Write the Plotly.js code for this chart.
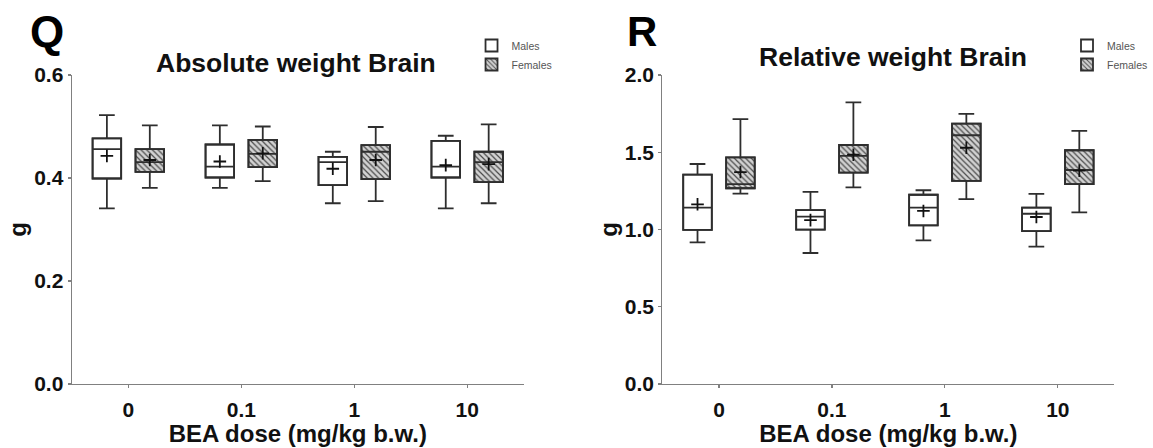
<!DOCTYPE html>
<html>
<head>
<meta charset="utf-8">
<script src="https://cdn.plot.ly/plotly-3.0.1.min.js"></script>
<style>
  html, body { margin: 0; padding: 0; background: #fff; }
  #chart { width: 1153px; height: 448px; }
</style>
</head>
<body>
<div id="chart"></div>
<script>
// ---------- data ----------
const doses = ['0', '0.1', '1', '10'];

// Panel Q: Absolute weight Brain (g)
const absMaleLow  = [0.341, 0.381, 0.351, 0.341];
const absMaleQ1   = [0.399, 0.401, 0.386, 0.401];
const absMaleMed  = [0.456, 0.422, 0.431, 0.422];
const absMaleQ3   = [0.477, 0.465, 0.441, 0.472];
const absMaleHigh = [0.522, 0.502, 0.451, 0.482];
const absMaleMean = [0.443, 0.432, 0.418, 0.425];

const absFemLow  = [0.381, 0.394, 0.355, 0.351];
const absFemQ1   = [0.412, 0.421, 0.398, 0.392];
const absFemMed  = [0.431, 0.447, 0.451, 0.431];
const absFemQ3   = [0.456, 0.474, 0.464, 0.451];
const absFemHigh = [0.502, 0.500, 0.499, 0.504];
const absFemMean = [0.435, 0.448, 0.435, 0.427];

// Panel R: Relative weight Brain (g)
const relMaleLow  = [0.917, 0.848, 0.930, 0.889];
const relMaleQ1   = [0.997, 0.999, 1.027, 0.990];
const relMaleMed  = [1.141, 1.083, 1.141, 1.102];
const relMaleQ3   = [1.355, 1.126, 1.225, 1.141];
const relMaleHigh = [1.424, 1.243, 1.254, 1.230];
const relMaleMean = [1.163, 1.061, 1.120, 1.081];

const relFemLow  = [1.232, 1.273, 1.197, 1.111];
const relFemQ1   = [1.267, 1.368, 1.315, 1.294];
const relFemMed  = [1.294, 1.476, 1.610, 1.385];
const relFemQ3   = [1.467, 1.547, 1.685, 1.513];
const relFemHigh = [1.715, 1.823, 1.748, 1.638];
const relFemMean = [1.372, 1.484, 1.529, 1.381];

// ---------- styling ----------
const W = 1153, H = 448;
const FONT = 'Arial, "Liberation Sans", Helvetica, sans-serif';
const AXCOL = '#808080';
const BOXCOL = '#2e2e2e';
const BOXW = 0.253;          // box width in category units
const SEX_OFFSET = { Males: -0.19, Females: 0.19 };  // side-by-side placement within a dose group

function pos(sex) { return doses.map((d, i) => i + SEX_OFFSET[sex]); }

function boxTrace(sex, xa, ya, lo, q1, med, q3, hi, legend) {
  return {
    type: 'box', name: sex, x: pos(sex),
    lowerfence: lo, q1: q1, median: med, q3: q3, upperfence: hi,
    xaxis: xa, yaxis: ya, width: BOXW, whiskerwidth: 0.55,
    fillcolor: 'rgba(0,0,0,0)', line: { color: BOXCOL, width: 1.8 },
    boxpoints: false, legend: legend, showlegend: false, hoverinfo: 'skip'
  };
}
function fillTrace(sex, xa, ya, q1, q3, legend, hatched) {
  const marker = { color: '#ffffff', line: { color: BOXCOL, width: 1.8 } };
  if (hatched) {
    marker.color = '#d2d2d2';
    marker.pattern = { shape: '\\', bgcolor: '#d2d2d2', fgcolor: '#4a4a4a', size: 4, solidity: 0.3 };
  }
  return {
    type: 'bar', name: sex, x: pos(sex), width: BOXW,
    base: q1, y: q3.map((v, i) => v - q1[i]),
    xaxis: xa, yaxis: ya, marker: marker,
    legend: legend, showlegend: true, hoverinfo: 'skip'
  };
}
function meanTrace(sex, xa, ya, mean) {
  return {
    type: 'scatter', mode: 'markers', name: sex + ' mean', x: pos(sex), y: mean,
    xaxis: xa, yaxis: ya, showlegend: false, hoverinfo: 'skip',
    marker: { symbol: 'cross-thin', size: 9, color: '#111', line: { color: '#111', width: 1.8 } }
  };
}

const traces = [
  // Panel Q
  fillTrace('Males', 'x', 'y', absMaleQ1, absMaleQ3, 'legend', false),
  fillTrace('Females', 'x', 'y', absFemQ1, absFemQ3, 'legend', true),
  boxTrace('Males', 'x', 'y', absMaleLow, absMaleQ1, absMaleMed, absMaleQ3, absMaleHigh, 'legend'),
  boxTrace('Females', 'x', 'y', absFemLow, absFemQ1, absFemMed, absFemQ3, absFemHigh, 'legend'),
  meanTrace('Males', 'x', 'y', absMaleMean),
  meanTrace('Females', 'x', 'y', absFemMean),
  // Panel R
  fillTrace('Males', 'x2', 'y2', relMaleQ1, relMaleQ3, 'legend2', false),
  fillTrace('Females', 'x2', 'y2', relFemQ1, relFemQ3, 'legend2', true),
  boxTrace('Males', 'x2', 'y2', relMaleLow, relMaleQ1, relMaleMed, relMaleQ3, relMaleHigh, 'legend2'),
  boxTrace('Females', 'x2', 'y2', relFemLow, relFemQ1, relFemMed, relFemQ3, relFemHigh, 'legend2'),
  meanTrace('Males', 'x2', 'y2', relMaleMean),
  meanTrace('Females', 'x2', 'y2', relFemMean)
];

const yDom = [1 - 384 / H, 1 - 75 / H];
const tickFont = { family: FONT, size: 21, color: '#111', weight: 'bold' };
const titleFont = { family: FONT, size: 24, color: '#111', weight: 'bold' };

function doseAxis(domPx, anchor) {
  return {
    domain: [domPx[0] / W, domPx[1] / W], anchor: anchor,
    type: 'linear', range: [-0.5, 3.5],
    tickmode: 'array', tickvals: doses.map((d, i) => i), ticktext: doses,
    showline: true, linecolor: AXCOL, linewidth: 1.3,
    ticks: 'outside', ticklen: 3, tickcolor: AXCOL, tickwidth: 1.2,
    showgrid: false, zeroline: false, tickfont: tickFont, ticklabelstandoff: 3,
    title: { text: 'BEA dose (mg/kg b.w.)', font: titleFont, standoff: 3 },
    automargin: false, fixedrange: true
  };
}
function valAxis(anchor, range, dtick) {
  return {
    domain: yDom, anchor: anchor, range: range, dtick: dtick, tick0: 0,
    tickformat: '.1f',
    showline: true, linecolor: AXCOL, linewidth: 1.3,
    ticks: 'outside', ticklen: 3, tickcolor: AXCOL, tickwidth: 1.2,
    showgrid: false, zeroline: false, tickfont: tickFont,
    title: { text: 'g', font: titleFont, standoff: 0 },
    automargin: false, fixedrange: true
  };
}

const legendCommon = {
  xanchor: 'left', yanchor: 'top', bgcolor: 'rgba(0,0,0,0)', borderwidth: 0,
  font: { family: FONT, size: 10.5, color: '#555' }, traceorder: 'normal',
  itemclick: false, itemdoubleclick: false
};

const layout = {
  width: W, height: H,
  margin: { l: 0, r: 0, t: 0, b: 0 },
  paper_bgcolor: '#ffffff', plot_bgcolor: 'rgba(0,0,0,0)',
  font: { family: FONT, color: '#111' },
  showlegend: true,
  boxmode: 'overlay', barmode: 'overlay',
  xaxis: doseAxis([73, 532], 'y'),
  yaxis: valAxis('x', [0, 0.6], 0.2),
  xaxis2: doseAxis([673, 1132], 'y2'),
  yaxis2: valAxis('x2', [0, 2.0], 0.5),
  legend: Object.assign({ x: 479 / W, y: 1 - 31 / H }, legendCommon),
  legend2: Object.assign({ x: 1084 / W, y: 1 - 31 / H }, legendCommon),
  annotations: [
    { text: 'Q', x: 48 / W, y: 1 - 31 / H, xref: 'paper', yref: 'paper', showarrow: false,
      xanchor: 'center', yanchor: 'middle', font: { family: FONT, size: 44, color: '#000', weight: 'bold' } },
    { text: 'R', x: 652 / W, y: 1 - 32 / H, xref: 'paper', yref: 'paper', showarrow: false,
      xanchor: 'center', yanchor: 'middle', font: { family: FONT, size: 42, color: '#000', weight: 'bold' } },
    { text: 'Absolute weight Brain', x: 301 / W, y: 1 - 63 / H, xref: 'paper', yref: 'paper', showarrow: false,
      xanchor: 'center', yanchor: 'middle', font: { family: FONT, size: 26.5, color: '#111', weight: 'bold' } },
    { text: 'Relative weight Brain', x: 907 / W, y: 1 - 57 / H, xref: 'paper', yref: 'paper', showarrow: false,
      xanchor: 'center', yanchor: 'middle', font: { family: FONT, size: 26.5, color: '#111', weight: 'bold' } }
  ]
};

Plotly.newPlot('chart', traces, layout, { displayModeBar: false, staticPlot: true });
</script>
</body>
</html>
